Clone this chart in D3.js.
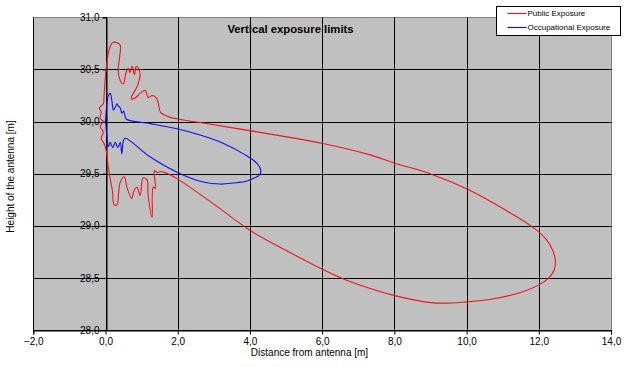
<!DOCTYPE html>
<html lang="en">
<head>
<meta charset="utf-8">
<title>Vertical exposure limits</title>
<script src="https://d3js.org/d3.v7.min.js"></script>
<style>
  body { margin: 0; background: #fff; }
  text { font-family: "Liberation Sans", Arial, sans-serif; }
</style>
</head>
<body>
<script>

// Public exposure contour [distance m, height m]
var publicX = [-0.04,-0.15,-0.12,-0.17,-0.06,-0.04,-0.01,0.02,0.07,0.13,0.21,0.35,0.41,0.38,0.35,0.43,0.49,0.57,0.63,0.68,0.74,0.80,0.85,0.91,0.96,0.88,0.71,0.80,0.96,1.10,1.18,1.29,1.40,1.46,1.52,1.65,1.79,2.07,2.62,4.03,6.02,7.33,8.01,8.99,10.03,11.03,11.86,12.23,12.39,12.46,12.43,12.33,12.04,11.49,10.75,10.01,9.09,8.01,7.06,6.59,6.02,5.02,4.03,2.99,1.99,1.65,1.52,1.43,1.35,1.38,1.32,1.29,1.18,1.15,1.04,0.96,0.87,0.77,0.73,0.60,0.52,0.41,0.36,0.32,0.24,0.19,0.13,0.07,0.02,-0.04,-0.12,-0.06,-0.15,-0.04];
var publicY = [30.00,30.03,30.09,30.13,30.17,30.25,30.40,30.51,30.64,30.72,30.76,30.75,30.73,30.59,30.49,30.38,30.36,30.47,30.51,30.47,30.53,30.45,30.53,30.51,30.45,30.34,30.22,30.22,30.27,30.30,30.23,30.25,30.23,30.18,30.09,30.06,30.04,30.02,29.99,29.91,29.79,29.68,29.60,29.50,29.35,29.16,28.98,28.86,28.76,28.66,28.58,28.52,28.44,28.36,28.30,28.27,28.26,28.33,28.43,28.49,28.58,28.76,28.95,29.21,29.45,29.51,29.52,29.51,29.53,29.36,29.37,29.08,29.29,29.44,29.46,29.29,29.37,29.32,29.26,29.36,29.47,29.42,29.31,29.20,29.20,29.34,29.45,29.58,29.72,29.79,29.84,29.90,29.95,30.00];

// Occupational exposure contour
var occX = [0.00,0.02,0.05,0.08,0.13,0.18,0.22,0.32,0.35,0.41,0.45,0.50,0.55,0.59,1.24,1.98,2.62,3.27,3.82,4.19,4.30,4.27,4.19,3.92,3.54,3.18,2.71,2.07,1.24,0.55,0.50,0.45,0.41,0.34,0.27,0.20,0.13,0.08,0.04,0.00];
var occY = [30.00,30.11,30.20,30.25,30.27,30.19,30.11,30.17,30.15,30.13,30.08,30.10,30.04,30.02,29.98,29.93,29.87,29.79,29.69,29.60,29.53,29.49,29.47,29.43,29.41,29.40,29.42,29.50,29.66,29.84,29.82,29.69,29.80,29.75,29.80,29.75,29.80,29.76,29.85,30.00];

var xTicks = [-2,0,2,4,6,8,10,12,14];
var yTicks = [28.0,28.5,29.0,29.5,30.0,30.5,31.0];

var seriesNames = ["Public Exposure", "Occupational Exposure"];
var seriesColors = ["#f0141e", "#1010f0"];

var w = 629, h = 367;
var plotLeft = 33.3, plotRight = 611, plotTop = 17.3, plotBottom = 330;

var svg = d3.select("body").append("svg")
  .attr("width", w)
  .attr("height", h);

var x = d3.scaleLinear().domain([-2, 14]).range([plotLeft, plotRight]);
var y = d3.scaleLinear().domain([28, 31]).range([plotBottom, plotTop]);

var fmt = d3.formatLocale({decimal: ",", thousands: ".", grouping: [3], currency: ["", ""]}).format(".1f");

// plot area
svg.append("rect")
  .attr("x", Math.round(plotLeft) + 0.5).attr("y", Math.round(plotTop) + 0.5)
  .attr("width", Math.round(plotRight) - Math.round(plotLeft))
  .attr("height", Math.round(plotBottom) - Math.round(plotTop))
  .attr("fill", "#c0c0c0")
  .attr("stroke", "#808080")
  .attr("stroke-width", 1);

// grid lines
svg.append("g").selectAll("line")
  .data(xTicks.filter(function(d) { return d < 14; }))
  .enter().append("line")
  .attr("x1", function(d) { return Math.round(x(d)) + 0.5; })
  .attr("x2", function(d) { return Math.round(x(d)) + 0.5; })
  .attr("y1", Math.round(plotTop) + 0.5).attr("y2", Math.round(plotBottom) + 0.5)
  .attr("stroke", "#000").attr("stroke-width", 1);

svg.append("g").selectAll("line")
  .data(yTicks.filter(function(d) { return d < 31; }))
  .enter().append("line")
  .attr("x1", Math.round(plotLeft) + 0.5).attr("x2", Math.round(plotRight) + 0.5)
  .attr("y1", function(d) { return Math.round(y(d)) + 0.5; })
  .attr("y2", function(d) { return Math.round(y(d)) + 0.5; })
  .attr("stroke", "#000").attr("stroke-width", 1);

// x axis at bottom
var xAxis = svg.append("g")
  .attr("transform", "translate(0," + (Math.round(plotBottom) + 0.5) + ")")
  .call(d3.axisBottom(x).tickValues(xTicks).tickFormat(fmt).tickSize(4).tickPadding(3));
xAxis.select(".domain").attr("stroke", "#000");
xAxis.selectAll("text").attr("font-size", "10px").attr("fill", "#000")
  .attr("font-family", "'Liberation Sans', Arial, sans-serif");

// y axis crosses at x = 0
var yAxis = svg.append("g")
  .attr("transform", "translate(" + (Math.round(x(0)) + 0.5) + ",0)")
  .call(d3.axisLeft(y).tickValues(yTicks).tickFormat(fmt).tickSize(4).tickPadding(3));
yAxis.select(".domain").attr("stroke", "#000");
yAxis.selectAll("text").attr("font-size", "10px").attr("fill", "#000")
  .attr("font-family", "'Liberation Sans', Arial, sans-serif");

// curves
var line = d3.line()
  .x(function(d) { return x(d[0]); })
  .y(function(d) { return y(d[1]); })
  .curve(d3.curveCatmullRom.alpha(0.5));

var series = [d3.zip(publicX, publicY), d3.zip(occX, occY)];

svg.append("g").selectAll("path")
  .data(series)
  .enter().append("path")
  .attr("d", line)
  .attr("fill", "none")
  .attr("stroke", function(d, i) { return seriesColors[i]; })
  .attr("stroke-width", 1.1)
  .attr("stroke-linejoin", "round");

// titles
svg.append("text")
  .attr("x", 290.5).attr("y", 33)
  .attr("text-anchor", "middle")
  .attr("font-size", "11.3px").attr("font-weight", "bold")
  .text("Vertical exposure limits");

svg.append("text")
  .attr("x", 309.5).attr("y", 355.5)
  .attr("text-anchor", "middle")
  .attr("font-size", "10px")
  .text("Distance from antenna [m]");

svg.append("text")
  .attr("transform", "translate(14,176.5) rotate(-90)")
  .attr("text-anchor", "middle")
  .attr("font-size", "10px")
  .text("Height of the antenna [m]");

// legend
var lg = svg.append("g").attr("transform", "translate(496.5,6.5)");
lg.append("rect")
  .attr("width", 124).attr("height", 29)
  .attr("fill", "#fff").attr("stroke", "#000");

var items = lg.selectAll("g.item")
  .data(seriesNames)
  .enter().append("g")
  .attr("class", "item")
  .attr("transform", function(d, i) { return "translate(0," + (7 + i * 14) + ")"; });

items.append("line")
  .attr("x1", 11).attr("x2", 30)
  .attr("stroke", function(d, i) { return seriesColors[i]; })
  .attr("stroke-width", 1.2);

items.append("text")
  .attr("x", 31).attr("dy", "0.33em")
  .attr("font-size", "8px")
  .text(function(d) { return d; });

</script>
</body>
</html>
